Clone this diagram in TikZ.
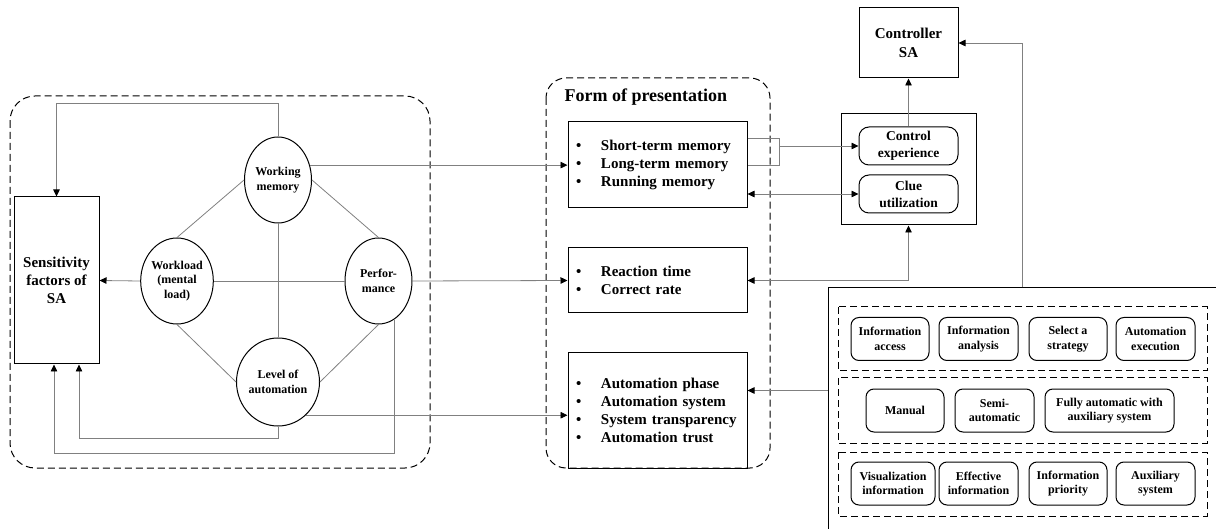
\documentclass[tikz,border=0pt]{standalone}
\usepackage{fontspec}
\setmainfont{Liberation Serif}
\usetikzlibrary{calc}
\usetikzlibrary{shapes}
\usetikzlibrary{arrows.meta}
\newcommand{\bul}{\makebox[25pt][l]{\textbullet}}

\begin{document}
\begin{tikzpicture}[x=1pt, y=-1pt,
    conn/.style={draw=black!50, line width=0.8pt,
      >={Triangle[length=7pt, width=6.5pt, color=black]}},
    group/.style={draw, line width=1pt, dash pattern=on 7pt off 4pt},
    box/.style={draw, line width=1pt, rectangle, inner sep=0pt, align=center},
    oval/.style={draw, line width=1pt, ellipse, inner sep=0pt, align=center,
      minimum width=67pt, minimum height=86pt,
      font=\bfseries\fontsize{12}{14.5}\selectfont},
    list/.style={box, minimum width=179pt, text width=163pt, align=left,
      font=\bfseries\fontsize{15}{18}\selectfont},
    factor/.style={box, rounded corners=10pt, minimum width=99pt, minimum height=38pt,
      font=\bfseries\fontsize{13.5}{17}\selectfont},
    item/.style={box, rounded corners=8pt, minimum width=78pt, minimum height=43pt,
      font=\bfseries\fontsize{12}{14.5}\selectfont}
    ]
    \useasboundingbox (0,0) rectangle (1216,529);
    \clip (0,0) rectangle (1216,529);

    \draw[group, rounded corners=25pt] (10,96) rectangle (430,468);
    \draw[group, rounded corners=20pt] (546,78) rectangle (770,468);

    \node[box, minimum width=85pt, minimum height=167pt,
      font=\bfseries\fontsize{15}{18}\selectfont] (sens) at (56.5,280.5) {Sensitivity\\factors of\\SA};
    \node[oval] (wm) at (278,180) {Working\\memory};
    \node[oval, minimum width=68pt] (wl) at (177,281) {Workload\\(mental\\load)};
    \node[oval] (perf) at (378.5,281) {Perfor-\\mance};
    \node[oval, minimum height=88pt] (loa) at (278,382) {Level of\\automation};

    \node[anchor=west, font=\bfseries\fontsize{18}{20}\selectfont] (form) at (561,97) {Form of presentation};
    \node[list, minimum height=86pt] (mem) at (657.5,165)
      {\bul Short-term memory\\\bul Long-term memory\\\bul Running memory};
    \node[list, minimum height=65pt] (rt) at (657.5,280.5)
      {\bul Reaction time\\\bul Correct rate};
    \node[list, minimum height=115pt] (auto) at (657.5,410.5)
      {\bul Automation phase\\\bul Automation system\\\bul System transparency\\\bul Automation trust};

    \node[box, minimum width=135pt, minimum height=111pt] (sab) at (908.5,169.5) {};
    \node[factor] (ctrl) at (908.5,146) {Control\\experience};
    \node[factor] (clue) at (908.5,194) {Clue\\utilization};
    \node[box, minimum width=99pt, minimum height=70pt,
      font=\bfseries\fontsize{15}{19}\selectfont] (csa) at (908.5,43) {Controller\\SA};

    \node[box, minimum width=412pt, minimum height=272pt] (big) at (1034,424) {};
    \draw[group] (838,307) rectangle (1207,371);
    \draw[group] (838,378) rectangle (1207,443);
    \draw[group] (838,452) rectangle (1207,516);
    \node[item] (ia) at (890,339) {Information\\access};
    \node[item, minimum width=79pt] (ib) at (978.5,339) {Information\\analysis};
    \node[item] (ic) at (1068,339) {Select a\\strategy};
    \node[item, minimum width=79pt] (id) at (1155.5,339) {Automation\\execution};
    \node[item] (ma) at (905,410.5) {Manual};
    \node[item, minimum width=79pt] (mb) at (994.5,410.5) {Semi-\\automatic};
    \node[item, minimum width=129pt] (mc) at (1109.5,410.5) {Fully automatic with\\auxiliary system};
    \node[item, minimum width=84pt] (va) at (893,483.5) {Visualization\\information};
    \node[item, minimum width=79pt] (vb) at (978.5,483.5) {Effective\\information};
    \node[item] (vc) at (1068,483.5) {Information\\priority};
    \node[item, minimum width=79pt] (vd) at (1155.5,483.5) {Auxiliary\\system};

    \draw[conn] (wm.west) -- (wl.north);
    \draw[conn] (wm.east) -- (perf.north);
    \draw[conn] (wl.south) -- (loa.west);
    \draw[conn] (perf.south) -- (loa.east);
    \draw[conn] (wm.south) -- (loa.north);
    \draw[conn] (wl.east) -- (perf.west);
    \draw[conn, ->] (wl.west) -- (sens.east);
    \draw[conn, ->] (wm.north) -- ++(0,-33) -| (sens.north);
    \draw[conn, ->] (loa.south) -- ++(0,12) -| ([xshift=22.5pt]sens.south);
    \draw[conn, ->] (perf.-68) -- ++(0,134) -| ([xshift=-2.5pt]sens.south);

    \draw[conn, ->] (wm.25) -- (wm.25 -| mem.west);
    \draw[conn, ->] (perf.east) -- (rt.west);
    \draw[conn, ->] (loa.-50) -- (loa.-50 -| auto.west);

    \draw[conn] ([yshift=27pt]mem.east) -- ++(32,0) coordinate (bk) -- ++(0,27) -- (mem.east);
    \draw[conn, ->] (bk |- ctrl.west) -- (ctrl.west);
    \draw[conn, <->] (mem.east |- clue.west) -- (clue.west);
    \draw[conn, ->] (ctrl.north) -- (csa.south);
    \draw[conn, <->] (rt.east) -| (sab.south);
    \draw[conn, ->] ([xshift=-12pt]big.north) |- (csa.east);
    \draw[conn, <-] ([yshift=20pt]auto.east) -- ([yshift=20pt]auto.east -| big.west);
  \end{tikzpicture}
\end{document}
